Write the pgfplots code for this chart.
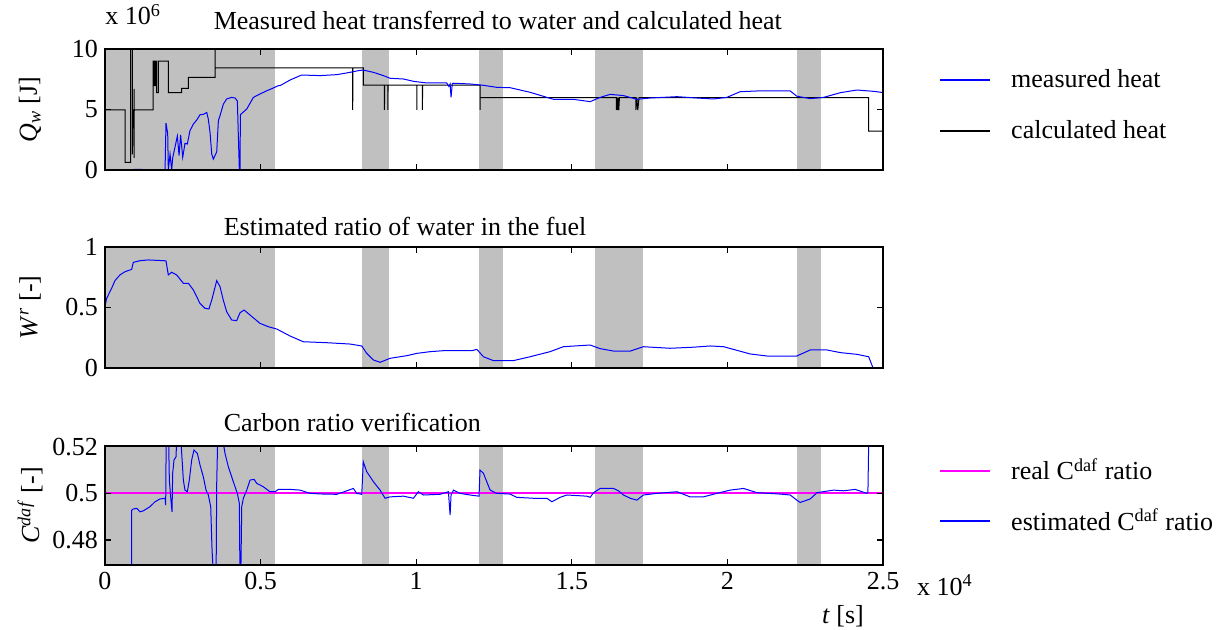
\documentclass[border=0pt]{standalone}
\usepackage{fontspec}
\setmainfont{Liberation Serif}
\usepackage{pgfplots}
\pgfplotsset{compat=1.18}
\definecolor{shade}{RGB}{192,192,192}
\definecolor{magline}{RGB}{255,0,255}
\newcommand{\fs}{\fontsize{13}{15}\selectfont}
\newcommand{\shaderegions}[1]{%
  \addplot[fill=shade, draw=none, forget plot] coordinates {(0,#1) (0.546,#1)} \closedcycle;
  \addplot[fill=shade, draw=none, forget plot] coordinates {(0.827,#1) (0.913,#1)} \closedcycle;
  \addplot[fill=shade, draw=none, forget plot] coordinates {(1.203,#1) (1.278,#1)} \closedcycle;
  \addplot[fill=shade, draw=none, forget plot] coordinates {(1.575,#1) (1.728,#1)} \closedcycle;
  \addplot[fill=shade, draw=none, forget plot] coordinates {(2.224,#1) (2.302,#1)} \closedcycle;
}
\pgfplotsset{
  panel/.style={
    scale only axis, width=389pt, xmin=0, xmax=2.5,
    axis line style={line width=0.8pt},
    xtick={0,0.5,1,1.5,2,2.5},
    tick style={black, line width=0.6pt}, major tick length=3pt,
    ticklabel style={font=\fs}, /pgf/number format/assume math mode=true,
    scaled ticks=false, axis on top, clip mode=individual,
    legend style={draw=none, fill=none, font=\fs, at={(1,1)}, anchor=north west,
      row sep=11pt, column sep=8pt, inner sep=0pt},
    legend image code/.code={\draw[#1, line width=0.9pt] (0pt,0pt) -- (25pt,0pt);},
    legend cell align=left,
    ylabel style={font=\fs, at={(rel axis cs:-0.0964,0.5)}, anchor=center},
  }
}
\begin{document}
\begin{tikzpicture}
% ---------- Panel 1 ----------
\begin{axis}[panel, name=p1, at={(0,0)}, anchor=north west, height=60.5pt,
  ymin=0, ymax=10, ytick={0,5,10}, xticklabels={},
  ylabel={\textit{Q}\textsubscript{\textit{w}} [J]},
  legend style={xshift=28pt, yshift=-8pt}]
\shaderegions{10.5}
\addlegendimage{blue}\addlegendentry{measured heat}
\addlegendimage{black}\addlegendentry{calculated heat}
\addplot[black, line width=0.5pt, forget plot] coordinates {
(0,4.96) (0.0643,4.96) (0.0643,0.63) (0.0825,0.63) (0.0825,10.5) (0.088,10.5) (0.088,1.3)
(0.090,4.96) (0.0932,4.96) (0.0932,6.7) (0.0935,1.0) (0.094,4.96) (0.155,4.96) (0.155,9.0)
(0.1586,9.0) (0.1586,6.97) (0.163,6.97) (0.163,9.0) (0.166,9.0) (0.166,6.4) (0.1715,6.4)
(0.1715,9.0) (0.2035,9.0) (0.2035,6.4) (0.2465,6.4) (0.2465,6.75) (0.268,6.75) (0.268,7.66)
(0.3536,7.66) (0.3536,10.5) (0.3537,8.43) (0.796,8.43) (0.796,4.96) (0.7965,8.43) (0.830,8.43)
(0.830,7.02) (0.898,7.02) (0.898,4.96) (0.8985,7.02) (0.909,7.02) (0.909,4.96) (0.9095,7.02)
(1.002,7.02) (1.002,4.96) (1.0025,7.02) (1.020,7.02) (1.020,4.96) (1.0205,7.02) (1.205,7.02)
(1.205,4.96) (1.2055,5.98) (1.643,5.98) (1.643,4.96) (1.645,5.98) (1.647,4.96) (1.649,5.98)
(1.651,4.96) (1.653,5.98) (1.706,5.98) (1.706,4.96) (1.709,5.98) (1.712,4.96) (1.716,5.98)
(2.454,5.98) (2.454,3.22) (2.5,3.22)};
\addplot[blue, line width=0.5pt, forget plot] coordinates {
(0,0.02) (0.05,0.02) (0.1125,0.05) (0.14,0.02) (0.193,0.02) (0.196,3.88) (0.2015,3.0)
(0.2035,0) (0.209,1.3) (0.2143,0) (0.2175,1.0) (0.225,1.9) (0.2325,2.8) (0.238,1.2)
(0.243,2.9) (0.2497,1.05) (0.257,2.2) (0.2646,2.15) (0.273,3.25) (0.284,3.8) (0.2947,4.13)
(0.3054,4.57) (0.316,4.6) (0.327,4.75) (0.332,4.2) (0.3375,3.1) (0.343,1.32) (0.348,0.9)
(0.3536,1.2) (0.359,1.5) (0.3643,4.07) (0.3697,4.5) (0.3804,5.45) (0.391,5.87) (0.407,6.0)
(0.418,5.95) (0.4253,5.7) (0.4317,0) (0.434,0) (0.435,4.57) (0.4555,5.04) (0.4768,6.0)
(0.498,6.28) (0.52,6.55) (0.541,6.78) (0.557,6.97) (0.5625,6.97) (0.595,7.44) (0.632,7.85)
(0.691,7.8) (0.745,7.88) (0.7875,8.07) (0.814,8.21) (0.830,8.26) (0.8625,8.07) (0.8946,7.8)
(0.916,7.58) (0.959,7.52) (0.991,7.33) (1.034,7.19) (1.098,7.19) (1.105,6.9) (1.109,7.1)
(1.112,6.0) (1.116,7.15) (1.12,7.17) (1.173,7.11) (1.216,7.0) (1.259,6.83) (1.302,6.8)
(1.366,6.42) (1.441,5.84) (1.505,5.84) (1.559,5.65) (1.591,6.0) (1.623,6.25) (1.666,6.15)
(1.709,5.84) (1.752,5.95) (1.838,6.06) (1.902,5.95) (1.955,5.87) (1.998,6.0) (2.041,6.47)
(2.095,6.53) (2.202,6.53) (2.223,6.1) (2.266,5.9) (2.309,6.0) (2.363,6.39) (2.416,6.61)
(2.47,6.5) (2.5,6.4)};
\node[anchor=base west, font=\fs] at (rel axis cs:0.1307,1) [yshift=9.5pt] {Measured heat transferred to water and calculated heat};
\node[anchor=base west, font=\fs, inner sep=0pt] at (rel axis cs:0,1) [yshift=12pt] {x 10\textsuperscript{6}};
\end{axis}
% ---------- Panel 2 ----------
\begin{axis}[panel, name=p2, at={(0,-99pt)}, anchor=north west, height=60.5pt,
  ymin=0, ymax=1, ytick={0,0.5,1}, xticklabels={},
  ylabel={\textit{W}\textsuperscript{\textit{r}} [-]}]
\shaderegions{1.05}
\addplot[blue, line width=0.5pt] coordinates {
(0,0.507) (0.0054,0.576) (0.0214,0.659) (0.032,0.722) (0.048,0.769) (0.0643,0.796)
(0.0857,0.815) (0.091,0.873) (0.1125,0.887) (0.139,0.893) (0.1875,0.887) (0.196,0.885)
(0.2035,0.769) (0.214,0.791) (0.2304,0.769) (0.2518,0.7) (0.268,0.7) (0.284,0.645)
(0.305,0.535) (0.3214,0.493) (0.334,0.488) (0.343,0.562) (0.359,0.722) (0.3697,0.672)
(0.380,0.562) (0.391,0.465) (0.407,0.397) (0.423,0.391) (0.434,0.457) (0.447,0.479)
(0.466,0.438) (0.498,0.369) (0.525,0.341) (0.552,0.322) (0.595,0.264) (0.637,0.217)
(0.713,0.209) (0.7875,0.198) (0.825,0.182) (0.841,0.121) (0.8625,0.066) (0.884,0.047)
(0.916,0.080) (0.970,0.102) (1.002,0.121) (1.045,0.135) (1.087,0.143) (1.179,0.143)
(1.195,0.154) (1.216,0.093) (1.248,0.061) (1.3125,0.061) (1.366,0.093) (1.430,0.135)
(1.473,0.176) (1.559,0.19) (1.591,0.16) (1.634,0.14) (1.688,0.14) (1.730,0.176)
(1.816,0.163) (1.891,0.172) (1.945,0.182) (1.988,0.176) (2.073,0.116) (2.127,0.099)
(2.223,0.099) (2.266,0.149) (2.320,0.149) (2.363,0.127) (2.416,0.113) (2.454,0.093)
(2.468,0) (2.5,0)};
\node[anchor=base west, font=\fs] at (rel axis cs:0.1436,1) [yshift=5.5pt] {Estimated ratio of water in the fuel};
\end{axis}
% ---------- Panel 3 ----------
\begin{axis}[panel, name=p3, at={(0,-198.5pt)}, anchor=north west, height=59.5pt,
  ymin=0.4693, ymax=0.5203, ytick={0.48,0.5,0.52}, yticklabels={0.48,0.5,0.52},
  ylabel={\textit{C}\textsuperscript{\textit{daf}} [-]},
  legend style={xshift=28pt, yshift=-4pt, row sep=9pt}]
\shaderegions{0.53}
\addlegendimage{magline}\addlegendentry{real C\textsuperscript{daf} ratio}
\addlegendimage{blue}\addlegendentry{estimated C\textsuperscript{daf} ratio}
\addplot[draw=magline, line width=1.1pt, forget plot] coordinates {(0,0.5) (2.5,0.5)};
\addplot[blue, line width=0.5pt, forget plot] coordinates {
(0,0.53) (0.0005,0.46) (0.0857,0.46) (0.0858,0.4928) (0.091,0.4933) (0.102,0.4936)
(0.1125,0.4921) (0.123,0.4925) (0.1446,0.4943) (0.1607,0.4964) (0.1768,0.4976) (0.193,0.4979)
(0.195,0.4950) (0.197,0.53) (0.2035,0.53) (0.2068,0.5057) (0.211,0.4985) (0.2154,0.4921)
(0.2175,0.5086) (0.2218,0.5143) (0.2282,0.5157) (0.2325,0.53) (0.241,0.53) (0.2465,0.5171)
(0.2518,0.5057) (0.257,0.5014) (0.2646,0.5007) (0.271,0.5057) (0.2786,0.5143) (0.286,0.5186)
(0.2968,0.5171) (0.3054,0.5121) (0.316,0.5071) (0.3247,0.5014) (0.332,0.4993) (0.3397,0.4943)
(0.344,0.4757) (0.3504,0.46) (0.3568,0.46) (0.359,0.5043) (0.3632,0.53) (0.3697,0.53)
(0.3857,0.5171) (0.3964,0.5114) (0.407,0.5071) (0.418,0.5028) (0.4253,0.5) (0.4317,0.4957)
(0.434,0.46) (0.436,0.46) (0.4394,0.4943) (0.4446,0.4979) (0.4555,0.5014) (0.466,0.5057)
(0.479,0.5060) (0.4876,0.5043) (0.509,0.5028) (0.52,0.5017) (0.530,0.5007) (0.5465,0.5007)
(0.557,0.5017) (0.595,0.5017) (0.627,0.5014) (0.659,0.5) (0.702,0.4997) (0.745,0.4996)
(0.777,0.5011) (0.798,0.5021) (0.809,0.5) (0.825,0.4996) (0.830,0.5135) (0.841,0.5093)
(0.8625,0.505) (0.884,0.5014) (0.900,0.4979) (0.916,0.4985) (0.959,0.4988) (0.991,0.4979)
(1.007,0.5007) (1.023,0.4993) (1.077,0.4996) (1.1035,0.5007) (1.109,0.4907) (1.112,0.4993)
(1.120,0.5014) (1.141,0.5) (1.173,0.4993) (1.202,0.4988) (1.205,0.51) (1.216,0.5086)
(1.2375,0.5014) (1.259,0.5) (1.302,0.4997) (1.323,0.4983) (1.377,0.4979) (1.420,0.4979)
(1.436,0.4964) (1.4625,0.4983) (1.484,0.4993) (1.548,0.4988) (1.559,0.4983) (1.570,0.5003)
(1.591,0.5021) (1.634,0.5021) (1.650,0.5011) (1.666,0.4993) (1.688,0.4979) (1.709,0.4971)
(1.730,0.4993) (1.773,0.5) (1.838,0.5007) (1.880,0.4985) (1.923,0.4985) (1.966,0.5)
(2.009,0.5014) (2.052,0.5021) (2.095,0.5003) (2.170,0.4997) (2.202,0.4993) (2.223,0.4971)
(2.234,0.4961) (2.266,0.4976) (2.288,0.5003) (2.341,0.5014) (2.373,0.5011) (2.411,0.5017)
(2.448,0.5) (2.4515,0.5003) (2.455,0.53) (2.5,0.53)};
\node[anchor=base west, font=\fs] at (rel axis cs:0.1436,1) [yshift=7pt] {Carbon ratio verification};
\node[anchor=base west, font=\fs, inner sep=0pt] at (rel axis cs:1,0) [xshift=16.8pt, yshift=-15pt] {x 10\textsuperscript{4}};
\node[anchor=base, font=\fs, inner sep=0pt] at (rel axis cs:0.9486,0) [yshift=-29pt] {\textit{t} [s]};
\end{axis}
\pgfresetboundingbox
\path (-52.5pt,24.5pt) rectangle (558pt,-290.5pt);
\end{tikzpicture}
\end{document}
